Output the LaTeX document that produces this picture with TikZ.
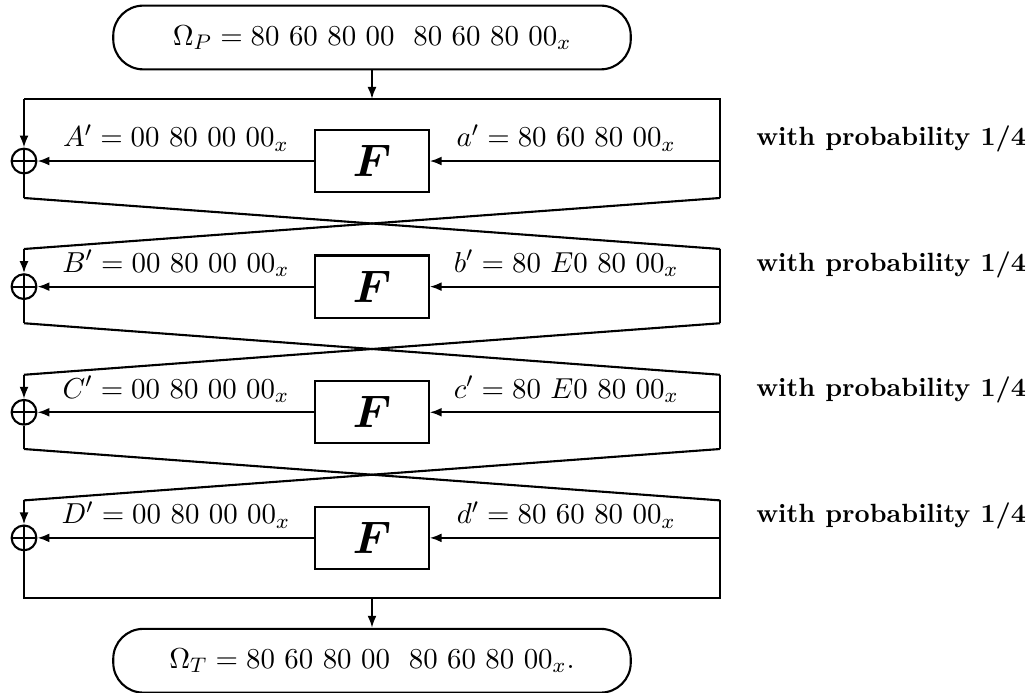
\documentclass[tikz,border=0pt]{standalone}
\usepackage{amsmath, amssymb}
\usepackage{tikz}
\usetikzlibrary{arrows.meta, positioning}

\tikzset{
  every node/.style={font=\fontsize{11}{13}\selectfont},
  roundbox/.style={draw, rounded corners=0.4cm, minimum width=6.9cm, minimum height=0.85cm},
  fnbox/.style={draw, minimum width=1.51cm, minimum height=0.83cm, font=\fontsize{16}{18}\selectfont\boldmath},
  xor/.style={draw, circle, minimum size=0.33cm, inner sep=0pt,
    path picture={\draw (path picture bounding box.north) -- (path picture bounding box.south)
      (path picture bounding box.west) -- (path picture bounding box.east);}},
  prob/.style={font=\fontsize{10}{12}\selectfont\bfseries, inner sep=2pt}
}

\begin{document}
\begin{tikzpicture}[thick, >={Latex[length=1.6mm,width=1.2mm]}]

\useasboundingbox (0,0) rectangle (13.76,-9.227);

% Plaintext and ciphertext differences
\node[roundbox] (in) at (4.96,-0.5) {$\Omega_P = 80\ 60\ 80\ 00\ \ 80\ 60\ 80\ 00_x$};
\node[roundbox] (out) at (4.96,-8.81) {$\Omega_T = 80\ 60\ 80\ 00\ \ 80\ 60\ 80\ 00_x.$};

% Round 1
\coordinate (lt1) at (0.32,-1.32);
\coordinate (rt1) at (9.6,-1.32);
\coordinate (lb1) at (0.32,-2.64);
\coordinate (rb1) at (9.6,-2.64);
\coordinate (r1) at (9.6,-2.147);
\node[xor] (x1) at (0.32,-2.147) {};
\node[fnbox] (f1) at (4.96,-2.147) {$F$};
\node[prob, above right=1pt and 0.4cm of r1] (p1) {with probability 1/4};
\draw[->] (in) -- (in |- lt1);
\draw (lt1) -- (rt1) -- (rb1);
\draw[->] (lt1) -- (x1);
\draw (x1) -- (lb1);
\draw[->] (r1) -- node[pos=0.53, above] {$a' = 80\ 60\ 80\ 00_x$} (f1);
\draw[->] (f1) -- node[above] {$A' = 00\ 80\ 00\ 00_x$} (x1);

% Round 2
\coordinate (lt2) at (0.32,-3.32);
\coordinate (rt2) at (9.6,-3.32);
\coordinate (lb2) at (0.32,-4.31);
\coordinate (rb2) at (9.6,-4.31);
\coordinate (r2) at (9.6,-3.822);
\node[xor] (x2) at (0.32,-3.822) {};
\node[fnbox] (f2) at (4.96,-3.822) {$F$};
\node[prob, above right=1pt and 0.4cm of r2] (p2) {with probability 1/4};
\draw (lb1) -- (rt2);
\draw (rb1) -- (lt2);
\draw (rt2) -- (rb2);
\draw[->] (lt2) -- (x2);
\draw (x2) -- (lb2);
\draw[->] (r2) -- node[pos=0.53, above] {$b' = 80\ E0\ 80\ 00_x$} (f2);
\draw[->] (f2) -- node[above] {$B' = 00\ 80\ 00\ 00_x$} (x2);

% Round 3
\coordinate (lt3) at (0.32,-4.997);
\coordinate (rt3) at (9.6,-4.997);
\coordinate (lb3) at (0.32,-5.987);
\coordinate (rb3) at (9.6,-5.987);
\coordinate (r3) at (9.6,-5.497);
\node[xor] (x3) at (0.32,-5.497) {};
\node[fnbox] (f3) at (4.96,-5.497) {$F$};
\node[prob, above right=1pt and 0.4cm of r3] (p3) {with probability 1/4};
\draw (lb2) -- (rt3);
\draw (rb2) -- (lt3);
\draw (rt3) -- (rb3);
\draw[->] (lt3) -- (x3);
\draw (x3) -- (lb3);
\draw[->] (r3) -- node[pos=0.53, above] {$c' = 80\ E0\ 80\ 00_x$} (f3);
\draw[->] (f3) -- node[above] {$C' = 00\ 80\ 00\ 00_x$} (x3);

% Round 4
\coordinate (lt4) at (0.32,-6.672);
\coordinate (rt4) at (9.6,-6.672);
\coordinate (lb4) at (0.32,-7.973);
\coordinate (rb4) at (9.6,-7.973);
\coordinate (r4) at (9.6,-7.172);
\node[xor] (x4) at (0.32,-7.172) {};
\node[fnbox] (f4) at (4.96,-7.172) {$F$};
\node[prob, above right=1pt and 0.4cm of r4] (p4) {with probability 1/4};
\draw (lb3) -- (rt4);
\draw (rb3) -- (lt4);
\draw[->] (lt4) -- (x4);
\draw (x4) -- (lb4) -- (rb4) -- (rt4);
\draw[->] (r4) -- node[pos=0.53, above] {$d' = 80\ 60\ 80\ 00_x$} (f4);
\draw[->] (f4) -- node[above] {$D' = 00\ 80\ 00\ 00_x$} (x4);
\draw[->] (out |- lb4) -- (out);

\end{tikzpicture}
\end{document}
